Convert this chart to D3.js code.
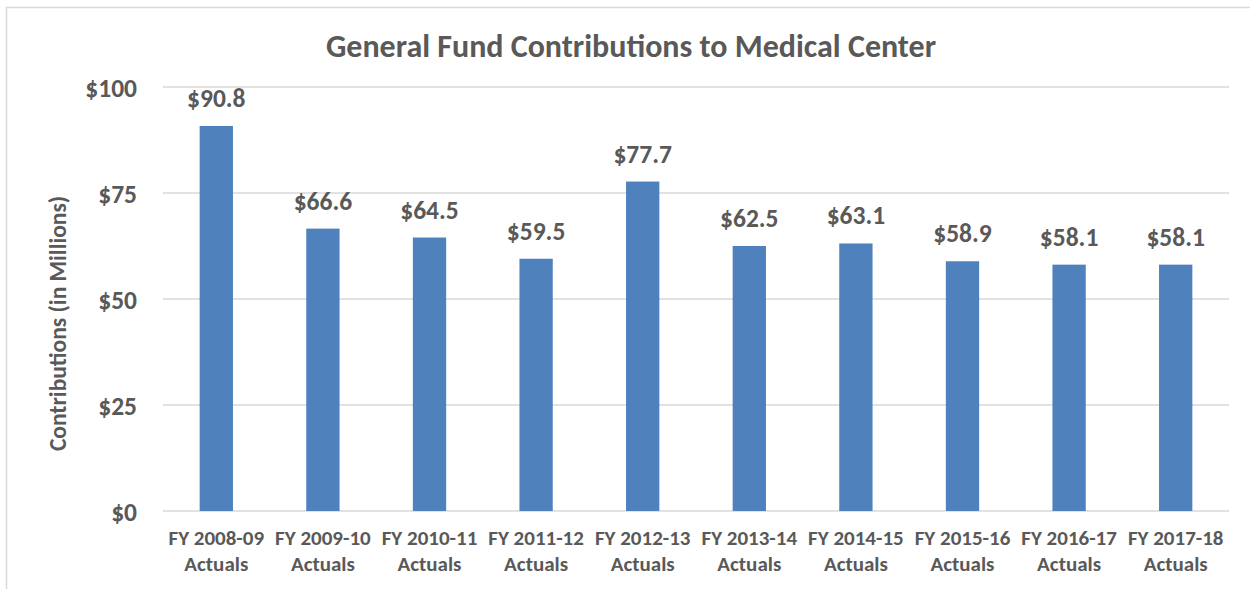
<!DOCTYPE html>
<html><head><meta charset="utf-8">
<script src="https://cdn.jsdelivr.net/npm/d3@7"></script>
<style>
body{margin:0;background:#fff;}
svg{display:block;font-family:Carlito, Lato, sans-serif;font-weight:bold;}
</style></head>
<body><svg id="c" width="1250" height="589"></svg>
<script>
const categories = ["FY 2008-09|Actuals","FY 2009-10|Actuals","FY 2010-11|Actuals","FY 2011-12|Actuals","FY 2012-13|Actuals","FY 2013-14|Actuals","FY 2014-15|Actuals","FY 2015-16|Actuals","FY 2016-17|Actuals","FY 2017-18|Actuals"];
const values = [90.8, 66.6, 64.5, 59.5, 77.7, 62.5, 63.1, 58.9, 58.1, 58.1];
const yTicks = [0, 25, 50, 75, 100];
const title = "General Fund Contributions to Medical Center";
const yTitle = "Contributions (in Millions)";

const svg = d3.select("#c");
const textColor = "#595959";
const ff = "Carlito, Lato, sans-serif";
// chart border
svg.append("rect").attr("x",6.5).attr("y",7.5).attr("width",1300).attr("height",700)
  .attr("fill","none").attr("stroke","#d9d9d9").attr("stroke-width",1.5);

const x = d3.scaleBand().domain(categories).range([163,1229]).paddingInner(0.6875).paddingOuter(0.34375);
const y = d3.scaleLinear().domain([0,100]).range([511,87]);

// gridlines
svg.append("g").selectAll("line").data(yTicks).join("line")
  .attr("x1",163).attr("x2",1229).attr("y1",d=>y(d)).attr("y2",d=>y(d))
  .attr("stroke","#d9d9d9").attr("stroke-width",1.5);

// y axis labels
const yAxis = d3.axisLeft(y).tickValues(yTicks).tickSize(0).tickPadding(0).tickFormat(d=>"$"+d);
const gy = svg.append("g").attr("transform","translate(137,0)").call(yAxis);
gy.select(".domain").remove();
gy.selectAll("text").attr("fill",textColor).style("font-size","25.5px").style("font-family",ff).attr("font-weight","bold").attr("dy","0.36em");

// bars
svg.append("g").selectAll("rect").data(values).join("rect")
  .attr("x",(d,i)=>x(categories[i])).attr("width",x.bandwidth())
  .attr("y",d=>y(d)).attr("height",d=>y(0)-y(d)).attr("fill","#4f81bd");

// data labels
svg.append("g").selectAll("text").data(values).join("text")
  .attr("x",(d,i)=>x(categories[i])+x.bandwidth()/2).attr("y",d=>y(d)-19)
  .attr("text-anchor","middle").attr("fill",textColor).style("font-size","25.5px")
  .text(d=>"$"+d.toFixed(1));

// x axis labels
const xAxis = d3.axisBottom(x).tickSize(0).tickPadding(0);
const gx = svg.append("g").attr("transform","translate(0,511)").call(xAxis);
gx.select(".domain").remove();
gx.selectAll("text").text(null).attr("fill",textColor).attr("y",0).attr("dy",null)
  .style("font-size","21px").style("font-family",ff).attr("font-weight","bold")
  .each(function(d){
    const parts = d.split("|");
    const t = d3.select(this);
    t.append("tspan").attr("x",0).attr("y",34).text(parts[0]);
    t.append("tspan").attr("x",0).attr("y",60).text(parts[1]);
  });

// title
svg.append("text").attr("x",631).attr("y",57).attr("text-anchor","middle")
  .attr("fill",textColor).style("font-size","32px").text(title);

// y title
svg.append("text").attr("transform","translate(66,323.5) rotate(-90)").attr("text-anchor","middle")
  .attr("fill",textColor).style("font-size","23.5px").text(yTitle);
</script></body></html>
